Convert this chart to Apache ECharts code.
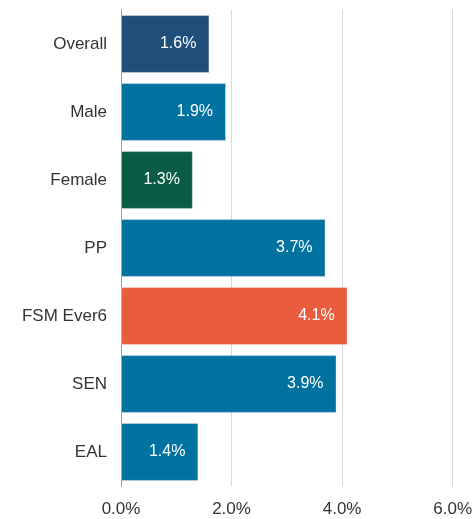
<!DOCTYPE html>
<html>
<head>
<meta charset="utf-8">
<script src="https://cdn.jsdelivr.net/npm/echarts@6/dist/echarts.min.js"></script>
<style>
  html, body { margin: 0; padding: 0; background: #fff; }
  #chart { width: 475px; height: 519px; }
</style>
</head>
<body>
<div id="chart"></div>
<script>
// 数据
var categories = ["Overall", "Male", "Female", "PP", "FSM Ever6", "SEN", "EAL"];
var values = [1.6, 1.9, 1.3, 3.7, 4.1, 3.9, 1.4];
var barColors = ["#1f4e7b", "#0072a0", "#0b5c45", "#0072a0", "#ea5c3e", "#0072a0", "#0072a0"];
var xTicks = [0, 2, 4, 6];

(function() {
  var myChart = echarts.init(document.getElementById("chart"));
  var option = {
    animation: false,
    grid: {
      left: 121,
      right: 21,
      top: 10,
      bottom: 33
    },
    xAxis: {
      type: "value",
      min: xTicks[0],
      max: xTicks[xTicks.length - 1],
      interval: 2,
      axisLine: { show: false },
      axisTick: { show: false },
      axisLabel: {
        color: "#333",
        fontSize: 17,
        fontFamily: "Liberation Sans, Arial, sans-serif",
        margin: 15,
        formatter: function(v) { return v.toFixed(1) + "%"; }
      },
      splitLine: {
        lineStyle: { color: "#d9d9d9", width: 1 }
      }
    },
    yAxis: {
      type: "category",
      inverse: true,
      data: categories,
      axisLine: {
        lineStyle: { color: "#999", width: 1 }
      },
      axisTick: {
        length: 5,
        lineStyle: { color: "#999" }
      },
      axisLabel: {
        color: "#333",
        fontSize: 17,
        fontFamily: "Liberation Sans, Arial, sans-serif",
        margin: 14
      }
    },
    series: [
      {
        type: "bar",
        barCategoryGap: "15%",
        data: values.map(function(v, i) {
          return { value: v, itemStyle: { color: barColors[i] } };
        }),
        itemStyle: {
          borderColor: "rgba(255,255,255,0.35)",
          borderWidth: 1
        },
        label: {
          show: true,
          position: "insideRight",
          distance: 13,
          color: "#fff",
          fontSize: 16,
          fontFamily: "Liberation Sans, Arial, sans-serif",
          formatter: function(p) { return p.value.toFixed(1) + "%"; }
        }
      }
    ]
  };
  myChart.setOption(option);
  window.addEventListener("resize", function() {
    myChart.resize();
  });
})();
</script>
</body>
</html>
